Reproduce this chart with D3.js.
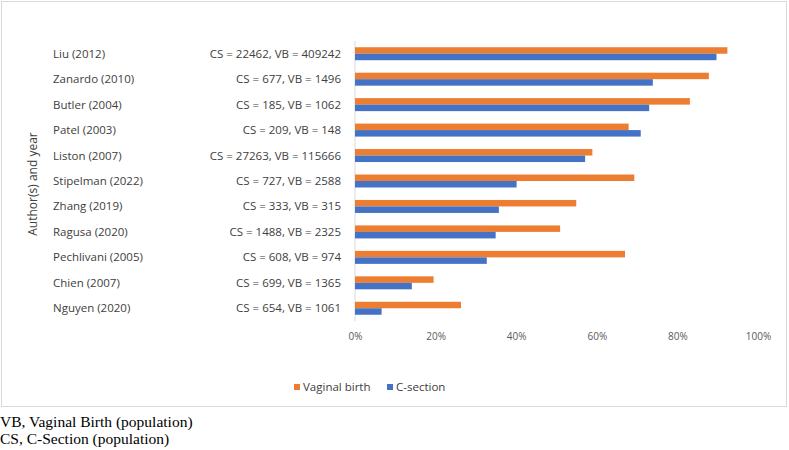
<!DOCTYPE html>
<html><head><meta charset="utf-8">
<script src="https://cdn.jsdelivr.net/npm/d3@7"></script>
<style>body{margin:0;background:#fff}svg{display:block}</style>
</head><body><svg id="c" width="789" height="450"></svg>
<script>
const authors = ["Liu (2012)","Zanardo (2010)","Butler (2004)","Patel (2003)","Liston (2007)","Stipelman (2022)","Zhang (2019)","Ragusa (2020)","Pechlivani (2005)","Chien (2007)","Nguyen (2020)"];
const populations = ["CS = 22462, VB = 409242","CS = 677, VB = 1496","CS = 185, VB = 1062","CS = 209, VB = 148","CS = 27263, VB = 115666","CS = 727, VB = 2588","CS = 333, VB = 315","CS = 1488, VB = 2325","CS = 608, VB = 974","CS = 699, VB = 1365","CS = 654, VB = 1061"];
const vaginalBirth = [0.924,0.878,0.831,0.679,0.589,0.693,0.549,0.509,0.670,0.195,0.263];
const cSection = [0.897,0.739,0.730,0.709,0.571,0.401,0.357,0.349,0.327,0.141,0.066];
const xTicks = [0,0.2,0.4,0.6,0.8,1.0];
const seriesNames = ["Vaginal birth","C-section"];
const seriesColors = ["#ED7D31","#4472C4"];

const svg = d3.select("#c");
const font = "'Open Sans', 'Noto Sans', sans-serif";

svg.append("rect").attr("x",1.5).attr("y",1.5).attr("width",785).attr("height",405)
  .attr("fill","#fff").attr("stroke","#d9d9d9").attr("stroke-width",1);

const x = d3.scaleLinear().domain([0,1]).range([355,758]);
const y = d3.scaleBand().domain(authors).range([41,321]).paddingInner(0.49).paddingOuter(0.245);
const sub = d3.scaleBand().domain(seriesNames).range([0,y.bandwidth()]);

// axis line
svg.append("line").attr("x1",x(0)).attr("x2",x(0)).attr("y1",41).attr("y2",321)
  .attr("stroke","#d9d9d9").attr("stroke-width",1);

const rows = authors.map((a,i)=>({a,i}));
const g = svg.append("g");
[vaginalBirth,cSection].forEach((vals,si)=>{
  g.selectAll(null).data(rows).enter().append("rect")
    .attr("x",x(0)).attr("y",d=>y(d.a)+sub(seriesNames[si]))
    .attr("width",d=>x(vals[d.i])-x(0)).attr("height",sub.bandwidth())
    .attr("fill",seriesColors[si]);
});

// category labels
svg.selectAll(null).data(rows).enter().append("text")
  .attr("x",53).attr("y",d=>y(d.a)+y.bandwidth()/2).attr("dy","0.35em")
  .attr("font-family",font).attr("font-size",11.5).attr("fill","#404040")
  .text(d=>d.a);
svg.selectAll(null).data(rows).enter().append("text")
  .attr("x",341).attr("y",d=>y(d.a)+y.bandwidth()/2).attr("dy","0.35em")
  .attr("text-anchor","end")
  .attr("font-family",font).attr("font-size",11.5).attr("fill","#404040")
  .text(d=>populations[d.i]);

// x axis
const ax = svg.append("g").attr("transform","translate(0,330)")
  .call(d3.axisBottom(x).tickValues(xTicks).tickFormat(d3.format(".0%")).tickSize(0));
ax.select(".domain").remove();
ax.selectAll("text").attr("font-family",font).attr("font-size",10).attr("fill","#595959");

// y title
svg.append("text").attr("transform","translate(37,184) rotate(-90)")
  .attr("text-anchor","middle").attr("font-family",font).attr("font-size",12).attr("fill","#404040")
  .text("Author(s) and year");

// legend
const leg = svg.append("g");
const legX = [294,387];
seriesNames.forEach((n,i)=>{
  leg.append("rect").attr("x",legX[i]).attr("y",384).attr("width",6).attr("height",6).attr("fill",seriesColors[i]);
  leg.append("text").attr("x",legX[i]+9).attr("y",387).attr("dy","0.35em")
    .attr("font-family",font).attr("font-size",11.5).attr("fill","#404040").text(n);
});

// footnotes
const notes = ["VB, Vaginal Birth (population)","CS, C-Section (population)"];
svg.selectAll(null).data(notes).enter().append("text")
  .attr("x",0).attr("y",(d,i)=>427+i*16.5)
  .attr("font-family","'Liberation Serif','Times New Roman',serif").attr("font-size",15.5).attr("fill","#000")
  .text(d=>d);
</script></body></html>
